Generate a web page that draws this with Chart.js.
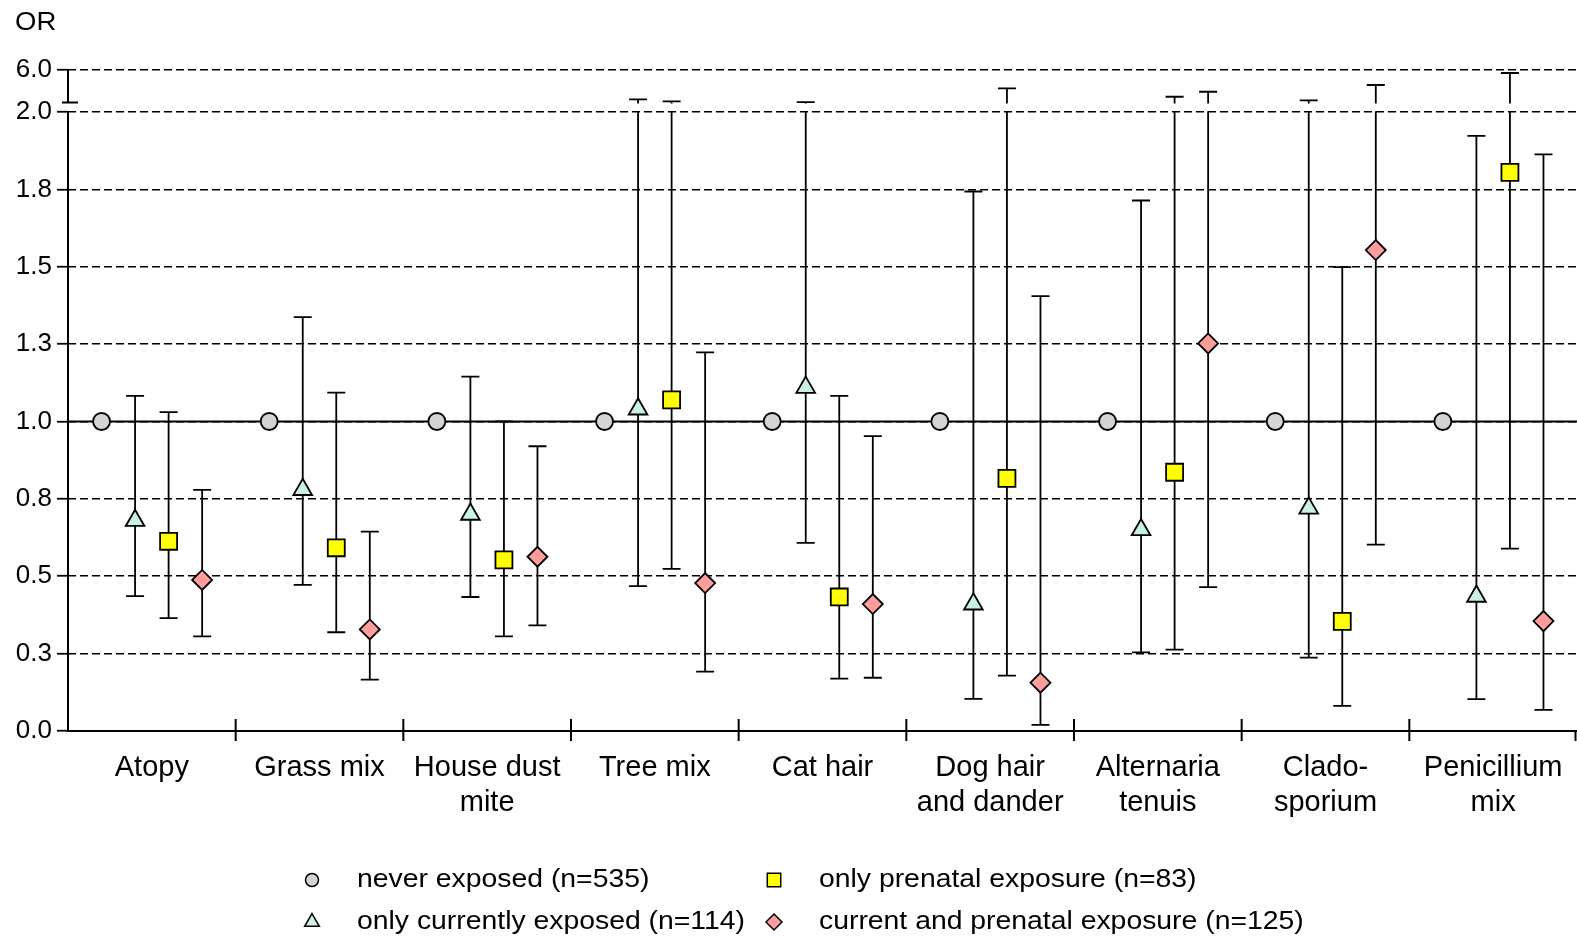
<!DOCTYPE html>
<html>
<head>
<meta charset="utf-8">
<title>OR by exposure group</title>
<script src="https://cdn.jsdelivr.net/npm/chart.js@4.4.1/dist/chart.umd.min.js"></script>
<style>
  html, body { margin:0; padding:0; background:#fff; overflow:hidden; }
  canvas { display:block; }
</style>
</head>
<body>
<canvas id="chartOR" width="1577" height="937"></canvas>
<script>
// Categories on the x axis (multi-line labels as arrays)
const categories = ['Atopy', 'Grass mix', ['House dust', 'mite'], 'Tree mix', 'Cat hair',
  ['Dog hair', 'and dander'], ['Alternaria', 'tenuis'], ['Clado-', 'sporium'], ['Penicillium', 'mix']];

// Y ticks as printed; the axis is broken between 2.0 and 6.0
const yTickValues = [0, 0.25, 0.5, 0.75, 1.0, 1.25, 1.5, 1.75, 2.0, 6.0];
const yTickLabels = ['0.0', '0.3', '0.5', '0.8', '1.0', '1.3', '1.5', '1.8', '2.0', '6.0'];

const seriesNames = ['never exposed (n=535)', 'only currently exposed (n=114)',
  'only prenatal exposure (n=83)', 'current and prenatal exposure (n=125)'];

// never exposed = reference group
const neverOR = [1, 1, 1, 1, 1, 1, 1, 1, 1];

// only currently exposed
const currOR = [0.68, 0.78, 0.70, 1.04, 1.11, 0.41, 0.65, 0.72, 0.435];
const currLo = [0.436, 0.472, 0.433, 0.468, 0.608, 0.104, 0.254, 0.237, 0.103];
const currHi = [1.083, 1.337, 1.145, 2.48, 2.15, 1.743, 1.714, 2.34, 1.923];

// only prenatal exposure
const prenOR = [0.613, 0.592, 0.553, 1.070, 0.433, 0.816, 0.836, 0.354, 1.805];
const prenLo = [0.365, 0.319, 0.306, 0.524, 0.169, 0.179, 0.263, 0.081, 0.589];
const prenHi = [1.030, 1.093, 1.0, 2.24, 1.083, 3.80, 2.79, 1.499, 5.64];

// current and prenatal exposure
const bothOR = [0.488, 0.328, 0.563, 0.478, 0.410, 0.156, 1.252, 1.554, 0.355];
const bothLo = [0.306, 0.166, 0.341, 0.192, 0.172, 0.020, 0.465, 0.602, 0.068];
const bothHi = [0.779, 0.644, 0.920, 1.223, 0.953, 1.405, 3.39, 4.2, 1.863];

// Broken axis: linear up to 2, then 2..6 squeezed into a short segment on top
const UPPER_BASE = 2.028, UPPER_SPAN = 0.1076;
const GAP_LO = 2.002, GAP_HI = 2.027, AXIS_CAP = 2.031;
function toDisp(v) { return v <= 2 ? v : UPPER_BASE + (v - 2) / 4 * UPPER_SPAN; }
const Y_MAX = toDisp(6);

const xOffsets = [0.2, 0.4, 0.6, 0.8];
function pts(vals, k) { return vals.map((v, i) => ({ x: i + xOffsets[k], y: toDisp(v) })); }

const CAP = 9;

function mkSet(k, vals, lo, hi, style, radius, fill) {
  return {
    label: seriesNames[k], data: pts(vals, k), lo: lo, hi: hi,
    pointStyle: style, pointRadius: radius, pointHoverRadius: radius,
    pointBackgroundColor: fill, pointBorderColor: '#000', pointBorderWidth: 1.8,
    legendRadius: { circle: 6.5, triangle: 8.5, rect: 9.5, rectRot: 8 }[style]
  };
}

const datasets = [
  mkSet(0, neverOR, null, null, 'circle', 8.5, '#d4d4d4'),
  mkSet(1, currOR, currLo, currHi, 'triangle', 10.8, '#c9f2e2'),
  mkSet(2, prenOR, prenLo, prenHi, 'rect', 12, '#ffff00'),
  mkSet(3, bothOR, bothLo, bothHi, 'rectRot', 10, '#ff9d9d')
];

function stretchedText(ctx, text, x, y, sx) {
  ctx.save();
  ctx.translate(x, y);
  ctx.scale(sx, 1);
  ctx.fillText(text, 0, 0);
  ctx.restore();
}

// axis break, reference line, group separators, error bars
const decorations = {
  id: 'decorations',
  beforeDatasetsDraw(chart) {
    const { ctx, chartArea: a, scales: { x, y } } = chart;
    ctx.save();
    ctx.strokeStyle = '#000';

    // solid line at OR = 1
    ctx.lineWidth = 1.8;
    ctx.beginPath();
    ctx.moveTo(a.left, y.getPixelForValue(1));
    ctx.lineTo(a.right, y.getPixelForValue(1));
    ctx.stroke();

    // broken y axis
    ctx.lineWidth = 2;
    ctx.beginPath();
    ctx.moveTo(a.left, y.getPixelForValue(0));
    ctx.lineTo(a.left, y.getPixelForValue(2));
    ctx.moveTo(a.left, y.getPixelForValue(Y_MAX));
    ctx.lineTo(a.left, y.getPixelForValue(AXIS_CAP));
    ctx.moveTo(a.left - 6, y.getPixelForValue(AXIS_CAP));
    ctx.lineTo(a.left + 10, y.getPixelForValue(AXIS_CAP));
    ctx.stroke();

    // group separators on the x axis
    const y0 = y.getPixelForValue(0);
    ctx.beginPath();
    for (let i = 1; i <= categories.length; i++) {
      const px = Math.min(x.getPixelForValue(i), a.right - 1.5);
      ctx.moveTo(px, i < categories.length ? y0 - 12 : y0);
      ctx.lineTo(px, y0 + 10);
    }
    ctx.stroke();

    // confidence intervals
    ctx.lineWidth = 1.8;
    chart.data.datasets.forEach(ds => {
      if (!ds.lo) return;
      ds.lo.forEach((lo, i) => {
        const hi = ds.hi[i];
        const px = x.getPixelForValue(ds.data[i].x);
        const yLo = y.getPixelForValue(toDisp(lo));
        const yHi = y.getPixelForValue(toDisp(hi));
        ctx.beginPath();
        if (hi > 2) {
          ctx.moveTo(px, yLo); ctx.lineTo(px, y.getPixelForValue(GAP_LO));
          ctx.moveTo(px, y.getPixelForValue(GAP_HI)); ctx.lineTo(px, yHi);
        } else {
          ctx.moveTo(px, yLo); ctx.lineTo(px, yHi);
        }
        ctx.moveTo(px - CAP, yLo); ctx.lineTo(px + CAP, yLo);
        ctx.moveTo(px - CAP, yHi); ctx.lineTo(px + CAP, yHi);
        ctx.stroke();
      });
    });
    ctx.restore();
  },
  afterDraw(chart) {
    const { ctx } = chart;
    ctx.save();
    ctx.fillStyle = '#000';
    ctx.textAlign = 'left';
    ctx.textBaseline = 'alphabetic';
    ctx.font = '25px "Liberation Sans", Arial, sans-serif';
    stretchedText(ctx, 'OR', 15, 29.5, 1.1);

    // legend in two columns
    const order = [[0, 0, 0], [2, 1, 0], [1, 0, 1], [3, 1, 1]];
    const colX = [312, 774], rowY = [880, 922];
    ctx.font = '26.5px "Liberation Sans", Arial, sans-serif';
    ctx.textBaseline = 'middle';
    order.forEach(([k, c, r]) => {
      const ds = chart.data.datasets[k];
      ctx.fillStyle = ds.pointBackgroundColor;
      ctx.strokeStyle = '#000';
      ctx.lineWidth = 1.5;
      Chart.helpers.drawPoint(ctx, { pointStyle: ds.pointStyle, rotation: 0, radius: ds.legendRadius, borderWidth: 1.5 }, colX[c], rowY[r]);
      ctx.fillStyle = '#000';
      stretchedText(ctx, ds.label, colX[c] + 45, rowY[r], 1.07);
    });
    ctx.restore();
  }
};

const chartOR = new Chart(document.getElementById('chartOR').getContext('2d'), {
  type: 'scatter',
  data: { datasets: datasets },
  plugins: [decorations],
  options: {
    responsive: false,
    animation: false,
    layout: { autoPadding: false, padding: { top: 70, right: 0, bottom: 0, left: 0 } },
    plugins: { legend: { display: false }, tooltip: { enabled: false } },
    scales: {
      x: {
        type: 'linear', min: 0, max: categories.length,
        afterBuildTicks: s => { s.ticks = categories.map((c, i) => ({ value: i + 0.5 })); },
        afterFit: s => { s.height = 206; s.paddingLeft = 0; s.paddingRight = 0; },
        grid: { display: false, drawTicks: false },
        border: { display: true, color: '#000', width: 2 },
        ticks: {
          autoSkip: false, maxRotation: 0, minRotation: 0, padding: 19, color: '#000',
          font: { family: '"Liberation Sans", Arial, sans-serif', size: 29, lineHeight: 1.22 },
          callback: (v, idx) => categories[idx]
        }
      },
      y: {
        type: 'linear', min: 0, max: Y_MAX,
        afterBuildTicks: s => { s.ticks = yTickValues.map(v => ({ value: toDisp(v) })); },
        afterFit: s => { s.width = 68; s.paddingTop = 0; s.paddingBottom = 0; },
        grid: { color: '#000', lineWidth: 1.5, tickLength: 11, tickWidth: 1.8, tickColor: '#000' },
        border: { display: false, dash: [8, 4] },
        ticks: {
          padding: 5, color: '#000',
          font: { family: '"Liberation Sans", Arial, sans-serif', size: 26 },
          callback: (v, idx) => yTickLabels[idx]
        }
      }
    }
  }
});
</script>
</body>
</html>
